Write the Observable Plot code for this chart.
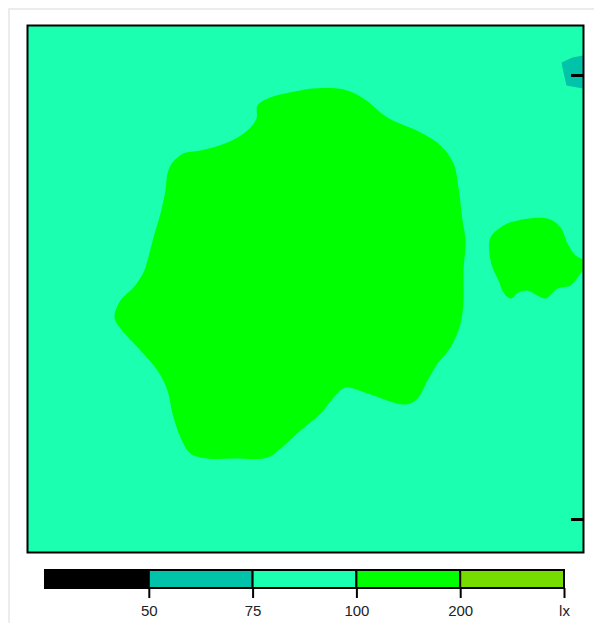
<!DOCTYPE html>
<html>
<head>
<meta charset="utf-8">
<script src="https://cdn.jsdelivr.net/npm/d3@7"></script>
<script src="https://cdn.jsdelivr.net/npm/@observablehq/plot@0.6"></script>
<style>
  html, body { margin: 0; padding: 0; background: #fff; }
  #page { position: relative; width: 594px; height: 623px; overflow: hidden; font-family: "Liberation Sans", Arial, sans-serif; }
  #sheet { position: absolute; left: 8px; top: 8px; width: 700px; height: 700px; border-left: 2px solid #ececec; border-top: 2px solid #ececec; box-sizing: border-box; }
  #map { position: absolute; left: 0; top: 0; }
  #legend { position: absolute; left: 0; top: 556px; }
  #legend svg text { font-size: 15px; }
</style>
</head>
<body>
<div id="page">
  <div id="sheet"></div>
  <div id="map"></div>
  <div id="legend"></div>
</div>
<script>
// Room floor plan (metres)
const roomWidth = 11.12;
const roomDepth = 10.54;

// Illuminance class boundaries (lx) and legend labels
const thresholds = [50, 75, 100, 200];
const legendLabels = ["50", "75", "100", "200", "lx"];
// Representative value for each legend class
const legendValues = [25, 60, 90, 150, 250];

// Base illuminance over the whole floor (75–100 lx)
const baseLevel = 90;

// Isolux areas: [x, y] outline vertices in metres, y measured from the front wall
const centralArea = [
  [4.58, 8.68], [4.60, 8.94], [4.86, 9.10], [5.46, 9.24], [5.72, 9.28], [6.32, 9.26],
  [6.72, 9.08], [7.20, 8.70], [7.86, 8.40], [8.26, 8.14], [8.52, 7.78], [8.62, 7.30],
  [8.70, 6.64], [8.76, 6.24], [8.72, 5.64], [8.72, 5.04], [8.66, 4.58], [8.46, 4.10],
  [8.20, 3.78], [8.00, 3.44], [7.80, 3.08], [7.56, 2.96], [6.80, 3.18], [6.36, 3.30],
  [6.16, 3.14], [5.86, 2.78], [5.46, 2.44], [5.06, 2.08], [4.80, 1.90], [4.12, 1.88],
  [3.60, 1.88], [3.26, 1.98], [3.06, 2.30], [2.90, 2.78], [2.80, 3.24], [2.60, 3.64],
  [2.26, 4.04], [1.86, 4.48], [1.74, 4.70], [1.86, 5.04], [2.12, 5.30], [2.32, 5.60],
  [2.40, 5.84], [2.52, 6.30], [2.66, 6.78], [2.76, 7.24], [2.80, 7.58], [2.90, 7.80],
  [3.12, 7.98], [3.46, 8.04], [4.00, 8.20], [4.40, 8.44]
];
const sideArea = [
  [9.26, 6.30], [9.46, 6.50], [9.72, 6.62], [10.40, 6.68], [10.66, 6.50], [10.80, 6.18],
  [10.96, 5.94], [11.12, 5.84], [11.12, 5.68], [11.00, 5.50], [10.86, 5.34], [10.60, 5.28],
  [10.36, 5.08], [10.20, 5.14], [10.00, 5.24], [9.82, 5.20], [9.66, 5.08], [9.52, 5.20],
  [9.42, 5.44], [9.30, 5.70], [9.24, 5.98]
];
const cornerArea = [
  [10.68, 9.80], [10.90, 9.90], [11.12, 9.94], [11.12, 9.28], [10.78, 9.34], [10.72, 9.60]
];
const centralLevel = 150; // 100–200 lx
const sideLevel = 150;    // 100–200 lx
const cornerLevel = 60;   // 50–75 lx

// Wall markers on the right-hand wall (y, metres)
const wallMarkers = [9.54, 0.66];

const colorScale = {
  type: "threshold",
  domain: thresholds,
  range: ["#000000", "#00c3a9", "#1affb0", "#00ff00", "#76dc00"]
};

const smoothAreas = [
  ...centralArea.map(([x, y]) => ({area: "central", level: centralLevel, x, y})),
  ...sideArea.map(([x, y]) => ({area: "side", level: sideLevel, x, y}))
];
const angularAreas = cornerArea.map(([x, y]) => ({area: "corner", level: cornerLevel, x, y}));

const map = Plot.plot({
  width: 594,
  height: 556,
  marginLeft: 27,
  marginRight: 11,
  marginTop: 25,
  marginBottom: 4,
  x: {domain: [0, roomWidth], axis: null},
  y: {domain: [0, roomDepth], axis: null},
  color: colorScale,
  marks: [
    Plot.rect([{level: baseLevel}], {x1: 0, x2: roomWidth, y1: 0, y2: roomDepth, fill: "level"}),
    Plot.line(smoothAreas, {x: "x", y: "y", z: "area", fill: "level", stroke: null, curve: "catmull-rom-closed", clip: true}),
    Plot.line(angularAreas, {x: "x", y: "y", z: "area", fill: "level", stroke: null, curve: "linear-closed", clip: true}),
    Plot.ruleY(wallMarkers, {x1: roomWidth - 0.24, x2: roomWidth, stroke: "#000", strokeWidth: 3}),
    Plot.frame({stroke: "#000", strokeWidth: 2})
  ]
});
document.getElementById("map").appendChild(map);

const legendCells = legendValues.map((value, i) => ({value, i}));

const legend = Plot.plot({
  width: 594,
  height: 67,
  marginLeft: 45,
  marginRight: 30,
  marginTop: 14,
  marginBottom: 35,
  style: {fontFamily: "'Liberation Sans', Arial, sans-serif", fontSize: "15px", color: "#222"},
  x: {domain: [0, legendLabels.length], axis: null},
  y: {domain: [0, 1], axis: null},
  color: colorScale,
  marks: [
    Plot.rect(legendCells, {x1: "i", x2: (d) => d.i + 1, y1: 0, y2: 1, fill: "value", stroke: "#000", strokeWidth: 2}),
    Plot.axisX(d3.range(1, legendLabels.length + 1), {
      tickFormat: (i) => legendLabels[i - 1],
      label: null,
      tickSize: 10,
      tickPadding: 7,
      stroke: "#000",
      strokeWidth: 2,
      fill: "#222",
      fontSize: 15
    })
  ]
});
document.getElementById("legend").appendChild(legend);
</script>
</body>
</html>
